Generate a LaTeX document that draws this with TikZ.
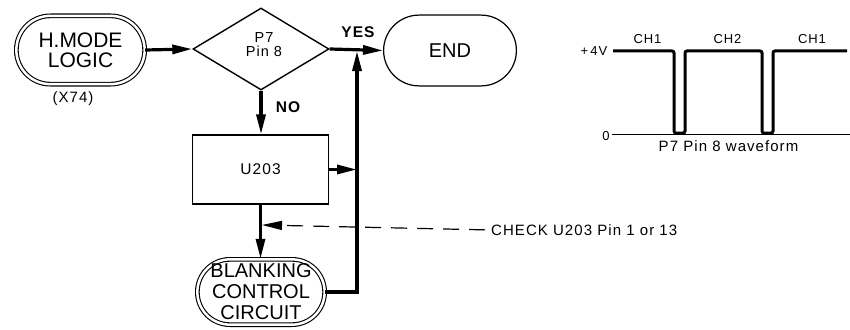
\documentclass[tikz,border=0pt]{standalone}
\usepackage{fontspec}
\setmainfont{Liberation Sans}
\newfontfamily\lsfont[LetterSpace=7]{Liberation Sans}
\usetikzlibrary{shapes.geometric,arrows.meta}
\begin{document}
\begin{tikzpicture}[x=1pt,y=-1pt,
  flow/.style={line width=3.2pt,-{Triangle[length=20pt,width=9pt]}},
  checkline/.style={line width=1.2pt,dash pattern=on 16pt off 10pt,-{Triangle[length=20pt,width=9pt]}},
  dterm/.style={draw,double,double distance=2.5pt,line width=1.1pt,rounded corners=#1,inner sep=0pt,align=center},
  sterm/.style={draw,line width=1.2pt,rounded corners=#1,inner sep=0pt,align=center},
  bigtext/.style={font=\fontsize{20pt}{21pt}\selectfont},
  small/.style={font=\lsfont\fontsize{#1}{#1}\selectfont,inner sep=0pt,align=center},
  tag/.style={font=\lsfont\bfseries\fontsize{15.5pt}{15.5pt}\selectfont,inner sep=0pt},
]
\useasboundingbox (0,0) rectangle (850,329);

% flowchart nodes
\node[dterm=34pt,minimum width=128.3pt,minimum height=68.3pt,font=\fontsize{21pt}{20pt}\selectfont]
  (hm) at (80.5,50) {H.MODE\\LOGIC};
\node[small=15pt] (x74) at (73,99) {(X74)};
\node[diamond,draw,line width=1.4pt,minimum width=136pt,minimum height=82pt,inner sep=0pt] (dia) at (261,49) {};
\node[small=14.5pt,text height=10pt] (p7) at (264,52) {P7\\Pin 8};
\node[sterm=35.4pt,minimum width=132.8pt,minimum height=70.8pt,bigtext] (end) at (450,50.5) {END};
\node[draw,line width=1.2pt,minimum width=136pt,minimum height=69pt,inner sep=0pt,small=15.5pt] (u203) at (260.5,169.5) {U203};
\node[dterm=32.6pt,minimum width=127.3pt,minimum height=65.3pt,bigtext] (blank) at (261,292) {BLANKING\\CONTROL\\CIRCUIT};
\node[small=15pt,anchor=west] (chk) at (491,230) {CHECK U203 Pin 1 or 13};

% labels
\node[tag] (yes) at (358,32.5) {YES};
\node[tag] (no) at (288,107) {NO};

% connectors
\coordinate (j) at (357,51);
\coordinate (t) at (262,225);
\draw[flow] (hm.east) -- (dia.west);
\draw[flow] (dia.east) -- (end.west);
\draw[flow] (dia.south) -- (dia.south |- u203.north);
\draw[flow] (u203.south) -- (u203.south |- blank.north);
\draw[flow] (u203.east) -- (u203.east -| j);
\draw[flow] (blank.east) -| (j);
\draw[checkline,shorten <=6pt] (chk.west) -- (t);

% waveform
\draw[line width=0.8pt] (612,134) -- (850,134);
\draw[line width=3pt,rounded corners=2pt] (613,51) -- (674,51) -- (674,133) -- (685,133) -- (685,51)
  -- (762,51) -- (762,133) -- (773,133) -- (773,51) -- (847,51);
\node[small=13pt] (v4) at (594,51) {+\,4V};
\node[small=13pt] (v0) at (606,136) {0};
\node[small=13pt] (ch1a) at (647.5,39) {CH1};
\node[small=13pt] (ch2) at (727.5,39) {CH2};
\node[small=13pt] (ch1b) at (812,39) {CH1};
\node[small=15pt] (wf) at (728.5,146) {P7 Pin 8 waveform};
\end{tikzpicture}
\end{document}
